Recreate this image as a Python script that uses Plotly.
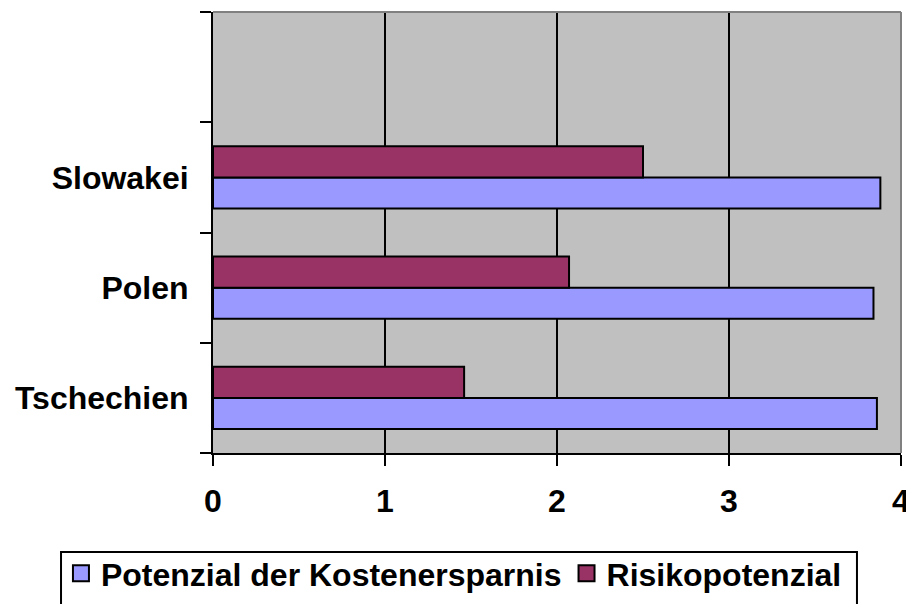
import plotly.graph_objects as go

categories = ["Tschechien", "Polen", "Slowakei", " "]
kostenersparnis = [3.86, 3.84, 3.88, None]
risikopotenzial = [1.46, 2.07, 2.50, None]
series_names = ["Potenzial der Kostenersparnis", "Risikopotenzial"]
x_ticks = [0, 1, 2, 3, 4]

blue = "#9999FF"
red = "#993366"
font_family = "Liberation Sans, Arial, sans-serif"
fsize = 32

fig = go.Figure()
fig.add_trace(go.Bar(y=categories, x=kostenersparnis, orientation="h",
                     marker=dict(color=blue, line=dict(color="black", width=2)),
                     showlegend=False, name=series_names[0]))
fig.add_trace(go.Bar(y=categories, x=risikopotenzial, orientation="h",
                     marker=dict(color=red, line=dict(color="black", width=2)),
                     showlegend=False, name=series_names[1]))
# legend entries
for nm, col in zip(series_names, [blue, red]):
    fig.add_trace(go.Scatter(x=[None], y=[None], mode="markers", name=nm,
                             marker=dict(symbol="square", size=16, color=col,
                                         line=dict(color="black", width=2))))

# the page body has an 8px margin, so the figure is offset by (8, 8)
fig.update_layout(
    width=906, height=596,
    margin=dict(l=205, r=13, t=4, b=151, autoexpand=False),
    paper_bgcolor="white",
    plot_bgcolor="#C0C0C0",
    barmode="group",
    bargap=0.436,
    bargroupgap=0,
    font=dict(family=font_family, size=fsize, color="black", weight="bold"),
    showlegend=True,
    legend=dict(orientation="h", x=-0.221, y=-0.2109, xanchor="left", yanchor="top",
                borderwidth=0, bgcolor="rgba(0,0,0,0)",
                font=dict(family=font_family, size=fsize, color="black", weight="bold"),
                itemwidth=30, tracegroupgap=0),
    xaxis=dict(range=[0, 4], tickvals=x_ticks, ticktext=[str(t) for t in x_ticks],
               showgrid=True, gridcolor="black", gridwidth=2,
               showline=True, linecolor="black", linewidth=2,
               ticks="outside", ticklen=11, tickwidth=2, tickcolor="black",
               ticklabelstandoff=8, zeroline=False, automargin=False,
               tickfont=dict(family=font_family, size=fsize, weight="bold")),
    yaxis=dict(type="category", categoryorder="array", categoryarray=categories,
               range=[-0.5, 3.5], tickson="boundaries", automargin=False,
               showgrid=False, showline=True, linecolor="black", linewidth=2,
               ticks="outside", ticklen=11, tickwidth=2, tickcolor="black",
               ticklabelstandoff=16,
               tickfont=dict(family=font_family, size=fsize, weight="bold")),
    shapes=[
        dict(type="line", xref="paper", yref="paper", x0=0, x1=1, y0=1, y1=1,
             line=dict(color="#808080", width=2), layer="above"),
        dict(type="line", xref="paper", yref="paper", x0=1, x1=1, y0=0, y1=1,
             line=dict(color="#808080", width=2), layer="above"),
        # legend frame
        dict(type="rect", xref="paper", yref="paper", x0=-0.2209, x1=0.936,
             y0=-0.2245, y1=-0.37, line=dict(color="black", width=2),
             fillcolor="rgba(0,0,0,0)", layer="above"),
    ],
)

fig.write_html("out.html")
